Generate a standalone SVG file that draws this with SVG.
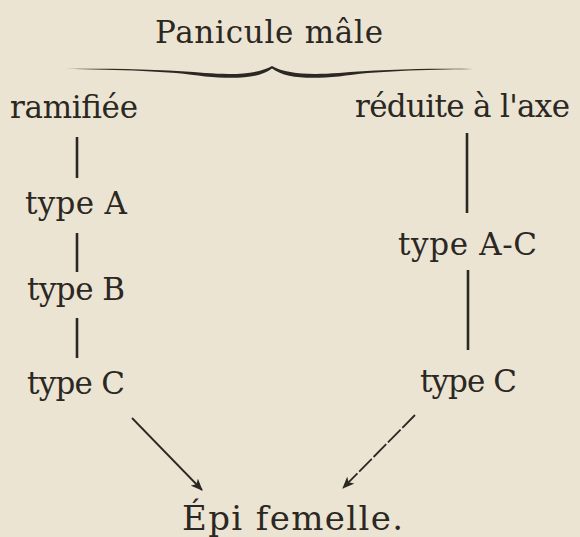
<svg xmlns="http://www.w3.org/2000/svg" width="580" height="537" viewBox="0 0 580 537">
  <defs>
    <style>
      .t { font-family: "DejaVu Serif", "Liberation Serif", serif; font-size: 31px; fill: #2b2824; }
      .big { font-size: 34px; }
      .ln { stroke: #2b2824; stroke-width: 2.6; fill: none; stroke-linecap: butt; }
      .ar { stroke: #2b2824; stroke-width: 1.8; fill: none; marker-end: url(#ah); }
    </style>
    <marker id="ah" viewBox="0 0 12 10" refX="11" refY="5" markerWidth="12" markerHeight="10" markerUnits="userSpaceOnUse" orient="auto">
      <path d="M0,0 L12,5 L0,10 L3,5 Z" fill="#2b2824"/>
    </marker>
  </defs>
  <rect width="580" height="537" fill="#ece4d2"/>

  <g id="title">
    <text class="t" x="155" y="43" textLength="228">Panicule mâle</text>
  </g>
  <g id="brace">
    <path d="M65,69 C120,68 170,70 205,73 C235,75 258,74 272,66 C286,74 309,75 339,73 C374,70 424,68 473,69 C424,69.8 374,71 339,76.5 C309,79 285,78.5 272,68.5 C259,78.5 235,79 205,76.5 C170,71 120,69.8 65,69 Z" fill="#2b2824"/>
  </g>
  <g id="ramifiee">
    <text class="t" x="10" y="118" textLength="128">ramifiée</text>
  </g>
  <g id="reduite">
    <text class="t" x="355" y="117" textLength="215">réduite à l'axe</text>
  </g>
  <g id="typeA">
    <text class="t" x="25" y="214" textLength="102">type A</text>
  </g>
  <g id="typeB">
    <text class="t" x="27" y="300" textLength="98">type B</text>
  </g>
  <g id="typeC-left">
    <text class="t" x="27" y="394" textLength="98">type C</text>
  </g>
  <g id="typeAC">
    <text class="t" x="398" y="255" textLength="139">type A-C</text>
  </g>
  <g id="typeC-right">
    <text class="t" x="420" y="392" textLength="97">type C</text>
  </g>
  <g id="epi">
    <text class="t big" x="182" y="530" textLength="221">Épi femelle.</text>
  </g>

  <g id="connectors">
    <line class="ln" x1="77" y1="137" x2="77" y2="178"/>
    <line class="ln" x1="77" y1="233" x2="77" y2="272"/>
    <line class="ln" x1="77" y1="318" x2="77" y2="358"/>
    <line class="ln" x1="467" y1="133" x2="467" y2="213"/>
    <line class="ln" x1="468" y1="270" x2="468" y2="350"/>
    <line class="ar" x1="132" y1="418" x2="202" y2="490"/>
    <line class="ar" x1="415" y1="415" x2="343" y2="488" stroke-dasharray="18 2.5"/>
  </g>
</svg>
